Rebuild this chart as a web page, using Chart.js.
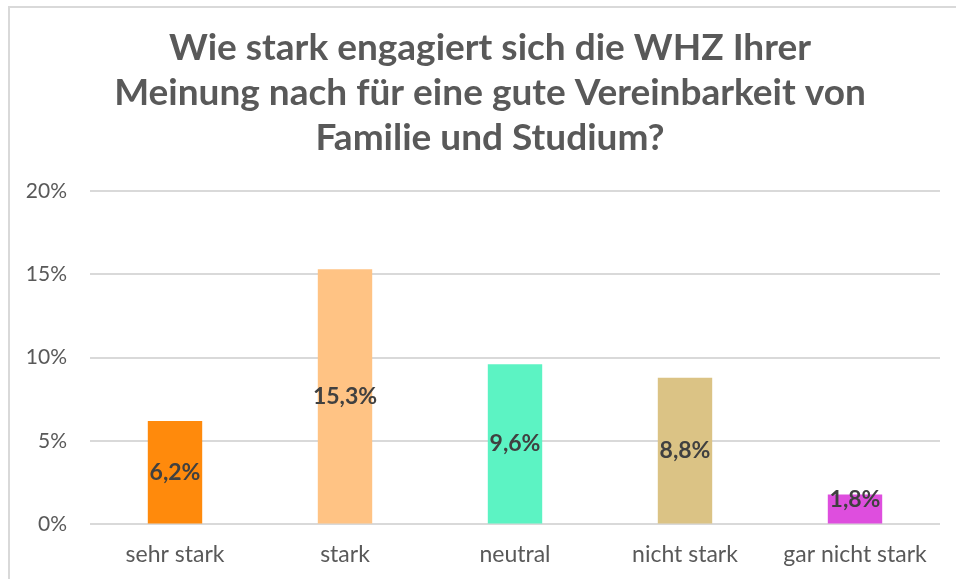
<!DOCTYPE html>
<html>
<head>
<meta charset="utf-8">
<script src="https://cdn.jsdelivr.net/npm/chart.js@4"></script>
<style>
  html, body { margin: 0; padding: 0; background: #fff; }
  #wrap { width: 956px; height: 579px; }
</style>
</head>
<body>
<div id="wrap"><canvas id="chart"></canvas></div>
<script>
const categories = ['sehr stark', 'stark', 'neutral', 'nicht stark', 'gar nicht stark'];
const values = [6.2, 15.3, 9.6, 8.8, 1.8];
const barColors = ['#FF8A0C', '#FFC384', '#5CF3C3', '#DBC385', '#DE4EDE'];
const titleLines = ['Wie stark engagiert sich die WHZ Ihrer', 'Meinung nach für eine gute Vereinbarkeit von', 'Familie und Studium?'];
const yMax = 20;
const yStep = 5;

// frame line and title (title drawn by hand so it can sit a bit right of the canvas middle)
const framePlugin = {
    id: 'frame',
    beforeDraw(chart) {
        let ctx = chart.ctx;
        ctx.save();
        ctx.strokeStyle = '#d9d9d9';
        ctx.lineWidth = 2;
        ctx.beginPath();
        ctx.moveTo(9, chart.height);
        ctx.lineTo(9, 7);
        ctx.lineTo(chart.width, 7);
        ctx.stroke();

        ctx.font = 'bold 37px Lato';
        ctx.fillStyle = '#595959';
        ctx.textAlign = 'center';
        ctx.textBaseline = 'middle';
        titleLines.forEach((line, i) => ctx.fillText(line, 490, 48.5 + i * 45));
        ctx.restore();
    }
};

// value labels inside the bars
const labelPlugin = {
    id: 'barLabels',
    afterDatasetsDraw(chart) {
        let ctx = chart.ctx;
        ctx.save();
        ctx.font = 'bold 23px Lato';
        ctx.fillStyle = '#404040';
        ctx.textAlign = 'center';
        ctx.textBaseline = 'middle';
        chart.getDatasetMeta(0).data.forEach((bar, i) => {
            let y = Math.min((bar.y + bar.base) / 2, bar.base - 24);
            ctx.fillText(values[i].toFixed(1).replace('.', ',') + '%', bar.x, y);
        });
        ctx.restore();
    }
};

new Chart(document.getElementById('chart').getContext('2d'), {
    type: 'bar',
    data: {
        labels: categories,
        datasets: [{ data: values, backgroundColor: barColors, barPercentage: 0.32, categoryPercentage: 1 }]
    },
    options: {
        responsive: true,
        maintainAspectRatio: false,
        animation: false,
        layout: { padding: { left: 0, right: 16, top: 191, bottom: -5 } },
        plugins: {
            legend: { display: false },
            tooltip: { enabled: false },
            title: { display: false }
        },
        scales: {
            x: {
                grid: { display: false, drawTicks: false },
                border: { display: false },
                ticks: { color: '#595959', font: { family: 'Lato', size: 23 }, padding: 16 }
            },
            y: {
                min: 0,
                max: yMax,
                afterFit(scale) { scale.width = 90; },
                grid: { color: '#d9d9d9', lineWidth: 2, drawTicks: false },
                border: { display: false },
                ticks: {
                    stepSize: yStep,
                    color: '#595959',
                    font: { family: 'Lato', size: 21 },
                    padding: 23,
                    callback: v => v + '%'
                }
            }
        }
    },
    plugins: [framePlugin, labelPlugin]
});
</script>
</body>
</html>
